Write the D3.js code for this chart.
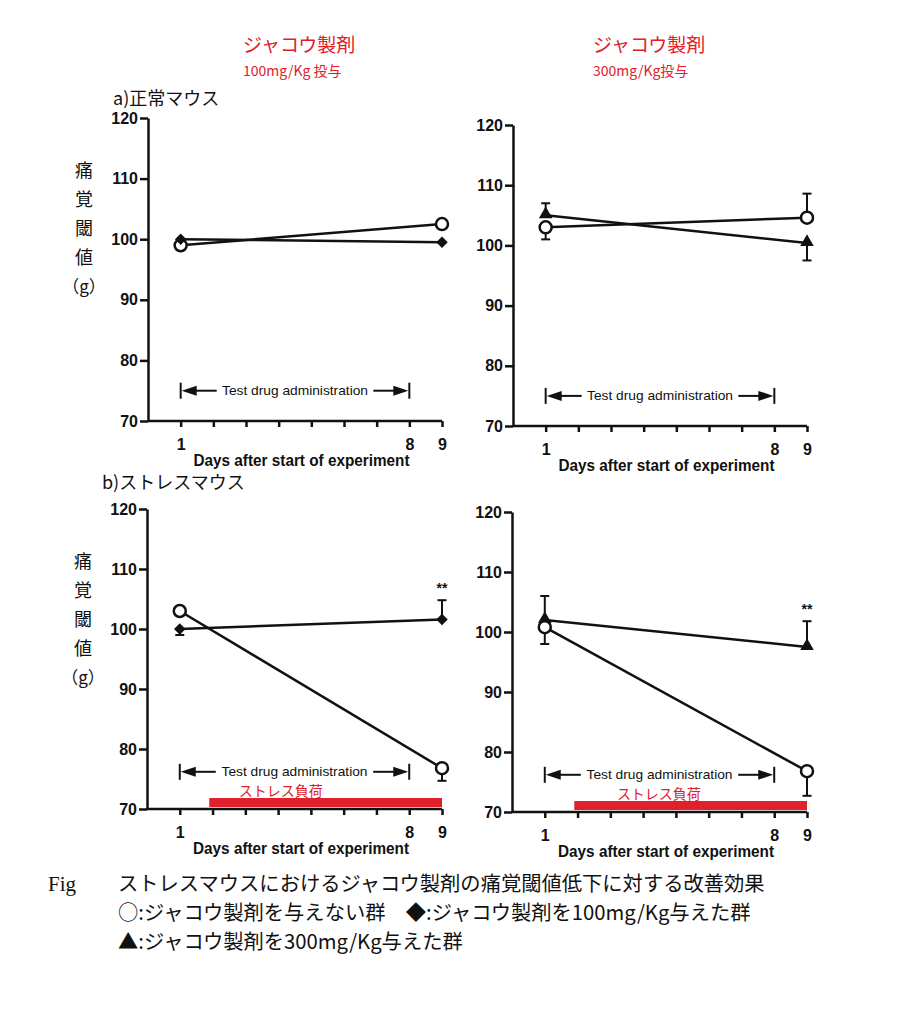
<!DOCTYPE html>
<html>
<head>
<meta charset="utf-8">
<script src="https://cdn.jsdelivr.net/npm/d3@7"></script>
<style>
  body { margin: 0; background: #fff; }
  svg { display: block; }
  .tick text { font-family: "Liberation Sans", Arial, sans-serif; font-weight: bold; font-size: 16px; fill: #111; }
  .jp { font-family: "Noto Sans CJK JP", sans-serif; }
</style>
</head>
<body>
<svg id="chart" width="920" height="1024"></svg>
<script>
// ---- data ----
const days = [1, 9];
const yTicks = [70, 80, 90, 100, 110, 120];
const xTickDays = [1, 2, 3, 4, 5, 6, 7, 8, 9];
const xLabelDays = [1, 8, 9];
const dosingDays = [1, 8];      // Test drug administration
const stressDays = [1.9, 9];    // ストレス負荷

// a) 正常マウス
const normalCtrlL = [99, 102.5];
const normalMusk100 = [100, 99.5];
const normalCtrlR = [103, 104.6];
const normalCtrlRErr = [-2, 4];
const normalMusk300 = [105, 100.4];
const normalMusk300Err = [2, -2.9];

// b) ストレスマウス
const stressCtrlL = [103, 76.8];
const stressCtrlLErr = [0, -2.1];
const stressMusk100 = [100, 101.6];
const stressMusk100Err = [-1, 3.2];
const stressCtrlR = [100.8, 76.8];
const stressCtrlRErr = [-2.8, -4.1];
const stressMusk300 = [102, 97.5];
const stressMusk300Err = [4, 4.3];

const panels = [
    { left: 148, right: 442, top: 118, bottom: 421, yLabel: true, bracketAt: 75,
      series: [
          { values: normalCtrlL, mark: "circle" },
          { values: normalMusk100, mark: "diamond" },
      ] },
    { left: 513, right: 807, top: 125, bottom: 426, yLabel: false, bracketAt: 75,
      series: [
          { values: normalMusk300, err: normalMusk300Err, mark: "triangle" },
          { values: normalCtrlR, err: normalCtrlRErr, mark: "circle" },
      ] },
    { left: 147, right: 442, top: 509, bottom: 809, yLabel: true, bracketAt: 76.2,
      stress: true, stressLabelDay: 2.8,
      series: [
          { values: stressMusk100, err: stressMusk100Err, mark: "diamond", star: true },
          { values: stressCtrlL, err: stressCtrlLErr, mark: "circle" },
      ] },
    { left: 512, right: 807, top: 512, bottom: 812, yLabel: false, bracketAt: 76.2,
      stress: true, stressLabelDay: 3.2,
      series: [
          { values: stressMusk300, err: stressMusk300Err, mark: "triangle", star: true },
          { values: stressCtrlR, err: stressCtrlRErr, mark: "circle" },
      ] },
];

const svg = d3.select("#chart");
const red = "#e0202a";

const drawPanel = (p) => {
    const x = d3.scaleLinear().domain([0, 9]).range([p.left, p.right]);
    const y = d3.scaleLinear().domain([70, 120]).range([p.bottom, p.top]);
    const g = svg.append("g");

    // axes
    const yAxis = g.append("g")
        .attr("transform", `translate(${p.left},0)`)
        .call(d3.axisLeft(y).tickValues(yTicks).tickSize(8).tickSizeOuter(0).tickPadding(2));
    const xAxis = g.append("g")
        .attr("transform", `translate(0,${p.bottom})`)
        .call(d3.axisBottom(x).tickValues(xTickDays).tickSize(6).tickSizeOuter(0).tickPadding(12)
            .tickFormat(d => xLabelDays.includes(d) ? d : ""));
    [yAxis, xAxis].forEach(a => {
        a.selectAll("path, line").attr("stroke", "#111").attr("stroke-width", 2.5);
    });
    xAxis.select(".domain").attr("d", `M${p.left},0H${x(9)}`);

    g.append("text")
        .attr("x", x(4.7)).attr("y", p.bottom + 45)
        .attr("text-anchor", "middle")
        .attr("font-family", "Liberation Sans, Arial, sans-serif")
        .attr("font-weight", "bold").attr("font-size", 16)
        .attr("textLength", 216).attr("lengthAdjust", "spacingAndGlyphs")
        .attr("fill", "#111")
        .text("Days after start of experiment");

    // dosing bracket
    const by = y(p.bracketAt);
    const bx0 = x(dosingDays[0]), bx1 = x(dosingDays[1]);
    const br = g.append("g").attr("stroke", "#111").attr("stroke-width", 2);
    br.append("line").attr("x1", bx0).attr("x2", bx0).attr("y1", by - 8).attr("y2", by + 8);
    br.append("line").attr("x1", bx1).attr("x2", bx1).attr("y1", by - 8).attr("y2", by + 8);
    br.append("line").attr("x1", bx0 + 10).attr("x2", bx0 + 36).attr("y1", by).attr("y2", by);
    br.append("line").attr("x1", bx1 - 36).attr("x2", bx1 - 10).attr("y1", by).attr("y2", by);
    g.append("path").attr("fill", "#111")
        .attr("d", `M${bx0 + 1},${by}L${bx0 + 16},${by - 5}L${bx0 + 16},${by + 5}Z`);
    g.append("path").attr("fill", "#111")
        .attr("d", `M${bx1 - 1},${by}L${bx1 - 16},${by - 5}L${bx1 - 16},${by + 5}Z`);
    g.append("text")
        .attr("x", (bx0 + bx1) / 2).attr("y", by + 4.5)
        .attr("text-anchor", "middle")
        .attr("font-family", "Liberation Sans, Arial, sans-serif")
        .attr("font-size", 13).attr("fill", "#111")
        .attr("textLength", 146).attr("lengthAdjust", "spacingAndGlyphs")
        .text("Test drug administration");

    // stress load bar
    if (p.stress) {
        g.append("rect")
            .attr("x", x(stressDays[0])).attr("width", x(stressDays[1]) - x(stressDays[0]))
            .attr("y", p.bottom - 11).attr("height", 9)
            .attr("fill", red);
        g.append("text").attr("class", "jp")
            .attr("x", x(p.stressLabelDay)).attr("y", p.bottom - 13)
            .attr("font-size", 14).attr("fill", red)
            .text("ストレス負荷");
    }

    // y label
    if (p.yLabel) {
        const chars = ["痛", "覚", "閾", "値"];
        const lx = p.left - 64;
        g.selectAll(".ylab").data(chars).enter().append("text")
            .attr("class", "jp")
            .attr("x", lx).attr("y", (d, i) => p.top + 59 + i * 29)
            .attr("text-anchor", "middle").attr("font-size", 18).attr("fill", "#111")
            .text(d => d);
        g.append("text").attr("class", "jp")
            .attr("x", lx).attr("y", p.top + 59 + 4 * 29)
            .attr("text-anchor", "middle").attr("font-size", 17).attr("fill", "#111")
            .text("（g）");
    }

    // series
    const line = d3.line().x((d, i) => x(days[i])).y(d => y(d));
    p.series.forEach(s => {
        g.append("path").datum(s.values)
            .attr("d", line).attr("fill", "none")
            .attr("stroke", "#111").attr("stroke-width", 2.5);
    });
    p.series.forEach(s => {
        if (s.err) {
            s.values.forEach((v, i) => {
                if (!s.err[i]) return;
                const cx = x(days[i]);
                const end = y(v + s.err[i]);
                g.append("line").attr("x1", cx).attr("x2", cx)
                    .attr("y1", y(v)).attr("y2", end)
                    .attr("stroke", "#111").attr("stroke-width", 2);
                g.append("line").attr("x1", cx - 4.5).attr("x2", cx + 4.5)
                    .attr("y1", end).attr("y2", end)
                    .attr("stroke", "#111").attr("stroke-width", 2);
            });
        }
        if (s.star) {
            const i = 1;
            g.append("text")
                .attr("x", x(days[i])).attr("y", y(s.values[i] + s.err[i]) - 7)
                .attr("text-anchor", "middle")
                .attr("font-family", "Liberation Sans, Arial, sans-serif")
                .attr("font-weight", "bold").attr("font-size", 14).attr("fill", "#111")
                .text("**");
        }
    });
    p.series.forEach(s => {
        const pts = g.selectAll(null).data(s.values).enter();
        if (s.mark === "circle") {
            pts.append("circle")
                .attr("cx", (d, i) => x(days[i])).attr("cy", d => y(d)).attr("r", 6)
                .attr("fill", "#fff").attr("stroke", "#111").attr("stroke-width", 2.5);
        } else if (s.mark === "diamond") {
            pts.append("path")
                .attr("d", d3.symbol(d3.symbolSquare, 66)())
                .attr("transform", (d, i) => `translate(${x(days[i])},${y(d)}) rotate(45)`)
                .attr("fill", "#111");
        } else {
            pts.append("path")
                .attr("d", d3.symbol(d3.symbolTriangle, 80)())
                .attr("transform", (d, i) => `translate(${x(days[i])},${y(d) - 1})`)
                .attr("fill", "#111");
        }
    });
};

panels.forEach(drawPanel);

// headings
const heads = [
    { x: 243, dose: "100mg/Kg  投与" },
    { x: 593, dose: "300mg/Kg投与" },
];
heads.forEach(h => {
    svg.append("text").attr("class", "jp")
        .attr("x", h.x).attr("y", 52)
        .attr("font-size", 19).attr("fill", red)
        .text("ジャコウ製剤");
    svg.append("text").attr("class", "jp")
        .attr("x", h.x).attr("y", 76)
        .attr("font-size", 14).attr("fill", red)
        .text(h.dose);
});

svg.append("text").attr("class", "jp")
    .attr("x", 113).attr("y", 105).attr("font-size", 18).attr("fill", "#111")
    .text("a)正常マウス");
svg.append("text").attr("class", "jp")
    .attr("x", 102).attr("y", 489).attr("font-size", 18).attr("fill", "#111")
    .text("b)ストレスマウス");

// caption
svg.append("text")
    .attr("x", 48).attr("y", 891)
    .attr("font-family", "Liberation Serif, serif").attr("font-size", 21).attr("fill", "#111")
    .text("Fig");
const captionLines = [
    "ストレスマウスにおけるジャコウ製剤の痛覚閾値低下に対する改善効果",
    "○:ジャコウ製剤を与えない群　◆:ジャコウ製剤を100mg/Kg与えた群",
    "▲:ジャコウ製剤を300mg/Kg与えた群",
];
svg.selectAll(".cap").data(captionLines).enter().append("text")
    .attr("class", "jp")
    .attr("x", 118).attr("y", (d, i) => 891 + i * 29)
    .attr("font-size", 20.3).attr("fill", "#111")
    .text(d => d);
</script>
</body>
</html>
